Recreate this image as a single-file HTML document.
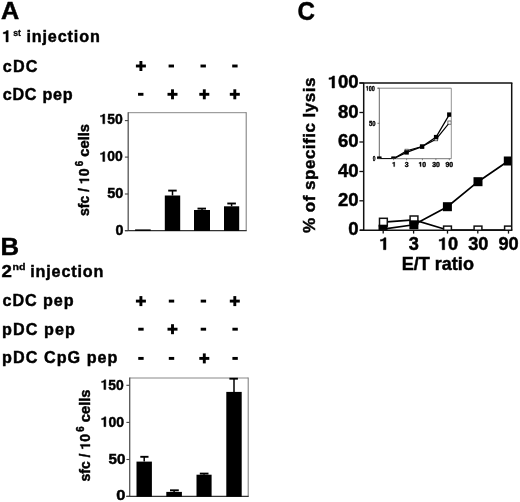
<!DOCTYPE html>
<html><head><meta charset="utf-8"><style>
html,body{margin:0;padding:0;background:#fff;}
svg{display:block;will-change:transform;}
text{font-family:"Liberation Sans",sans-serif;font-weight:bold;}
</style></head><body>
<svg width="520" height="502" viewBox="0 0 520 502">
<rect width="520" height="502" fill="#fff"/>
<g transform="translate(0.93,19.00) scale(1.0730,1.0000)"><text x="0" y="0" font-size="23.5" fill="#000" stroke="#000" stroke-width="0.45">A</text></g>
<g transform="translate(2.19,41.90) scale(0.9825,1.0000)"><text x="0" y="0" font-size="16.5" fill="#000" stroke="#000" stroke-width="0.45"> </text><path transform="translate(0.000,0) scale(0.008057,-0.008057)" d="M 478 0 L 759 0 L 759 1409 L 560 1409 C 520 1270 370 1200 140 1190 L 140 1000 C 300 1005 420 1035 478 1075 Z" fill="#000" stroke="#000" stroke-width="0.45" vector-effect="non-scaling-stroke"/></g>
<g transform="translate(13.24,35.50) scale(0.9600,1.0000)"><text x="0" y="0" font-size="9" fill="#000" stroke="#000" stroke-width="0.3">st</text></g>
<g transform="translate(26.40,41.90) scale(0.9800,1.0000)"><text x="0" y="0" font-size="16.5" fill="#000" stroke="#000" stroke-width="0.45" letter-spacing="0.891">injection</text></g>
<g transform="translate(2.69,71.60) scale(0.9800,1.0000)"><text x="0" y="0" font-size="16.5" fill="#000" stroke="#000" stroke-width="0.45" letter-spacing="1.245">cDC</text></g>
<g transform="translate(2.69,99.80) scale(0.9800,1.0000)"><text x="0" y="0" font-size="16.5" fill="#000" stroke="#000" stroke-width="0.45" letter-spacing="0.763">cDC pep</text></g>
<rect x="135.90" y="64.55" width="10.00" height="2.90" fill="#000" />
<rect x="139.45" y="61.00" width="2.90" height="10.00" fill="#000" />
<rect x="168.60" y="64.55" width="5.40" height="2.90" fill="#000" />
<rect x="200.50" y="64.55" width="5.40" height="2.90" fill="#000" />
<rect x="232.20" y="64.55" width="5.40" height="2.90" fill="#000" />
<rect x="138.05" y="92.85" width="5.40" height="2.90" fill="#000" />
<rect x="167.50" y="92.85" width="10.00" height="2.90" fill="#000" />
<rect x="171.05" y="89.30" width="2.90" height="10.00" fill="#000" />
<rect x="199.30" y="92.85" width="10.00" height="2.90" fill="#000" />
<rect x="202.85" y="89.30" width="2.90" height="10.00" fill="#000" />
<rect x="229.80" y="92.85" width="10.00" height="2.90" fill="#000" />
<rect x="233.35" y="89.30" width="2.90" height="10.00" fill="#000" />
<line x1="128.20" y1="112.70" x2="246.20" y2="112.70" stroke="#888" stroke-width="1.0" />
<line x1="246.20" y1="112.20" x2="246.20" y2="230.60" stroke="#777" stroke-width="1.0" />
<line x1="128.20" y1="112.20" x2="128.20" y2="231.10" stroke="#555" stroke-width="1.3" />
<line x1="124.90" y1="230.60" x2="246.70" y2="230.60" stroke="#333" stroke-width="1.2" />
<line x1="124.90" y1="120.60" x2="128.20" y2="120.60" stroke="#444" stroke-width="1.1" />
<line x1="124.90" y1="157.10" x2="128.20" y2="157.10" stroke="#444" stroke-width="1.1" />
<line x1="124.90" y1="194.00" x2="128.20" y2="194.00" stroke="#444" stroke-width="1.1" />
<line x1="124.90" y1="230.60" x2="128.20" y2="230.60" stroke="#444" stroke-width="1.1" />
<rect x="135.10" y="229.40" width="15.60" height="1.50" fill="#000" />
<rect x="164.80" y="195.50" width="15.40" height="35.40" fill="#000" />
<line x1="172.50" y1="190.60" x2="172.50" y2="195.50" stroke="#000" stroke-width="1.5" />
<line x1="168.20" y1="190.60" x2="176.70" y2="190.60" stroke="#000" stroke-width="1.9" />
<rect x="194.00" y="210.00" width="16.00" height="20.90" fill="#000" />
<line x1="202.00" y1="208.60" x2="202.00" y2="210.00" stroke="#000" stroke-width="1.5" />
<line x1="197.50" y1="208.60" x2="206.00" y2="208.60" stroke="#000" stroke-width="1.9" />
<rect x="224.00" y="206.30" width="15.20" height="24.60" fill="#000" />
<line x1="231.60" y1="203.50" x2="231.60" y2="206.30" stroke="#000" stroke-width="1.5" />
<line x1="227.30" y1="203.50" x2="235.90" y2="203.50" stroke="#000" stroke-width="1.9" />
<g transform="translate(99.55,123.78) scale(0.9830,1.0000)"><text x="0" y="0" font-size="14.2" fill="#000" stroke="#000" stroke-width="0.45"> 50</text><path transform="translate(0.000,0) scale(0.006934,-0.006934)" d="M 478 0 L 759 0 L 759 1409 L 560 1409 C 520 1270 370 1200 140 1190 L 140 1000 C 300 1005 420 1035 478 1075 Z" fill="#000" stroke="#000" stroke-width="0.45" vector-effect="non-scaling-stroke"/></g>
<g transform="translate(99.55,161.43) scale(0.9830,1.0000)"><text x="0" y="0" font-size="14.2" fill="#000" stroke="#000" stroke-width="0.45"> 00</text><path transform="translate(0.000,0) scale(0.006934,-0.006934)" d="M 478 0 L 759 0 L 759 1409 L 560 1409 C 520 1270 370 1200 140 1190 L 140 1000 C 300 1005 420 1035 478 1075 Z" fill="#000" stroke="#000" stroke-width="0.45" vector-effect="non-scaling-stroke"/></g>
<g transform="translate(107.29,198.43) scale(1.0237,1.0000)"><text x="0" y="0" font-size="14.2" fill="#000" stroke="#000" stroke-width="0.45">50</text></g>
<g transform="translate(115.47,234.73) scale(1.0074,1.0000)"><text x="0" y="0" font-size="14.2" fill="#000" stroke="#000" stroke-width="0.45">0</text></g>
<g transform="translate(89.00,216.00) scale(1.0000,1.0000) rotate(-90)"><text x="0" y="0" font-size="14" fill="#000" stroke="#000" stroke-width="0.45">sfc /  0</text><path transform="translate(31.903,0) scale(0.006836,-0.006836)" d="M 478 0 L 759 0 L 759 1409 L 560 1409 C 520 1270 370 1200 140 1190 L 140 1000 C 300 1005 420 1035 478 1075 Z" fill="#000" stroke="#000" stroke-width="0.45" vector-effect="non-scaling-stroke"/></g>
<g transform="translate(82.80,166.25) scale(1.0000,0.9268) rotate(-90)"><text x="0" y="0" font-size="10.5" fill="#000" stroke="#000" stroke-width="0.5">6</text></g>
<g transform="translate(89.00,156.73) scale(1.0000,1.0523) rotate(-90)"><text x="0" y="0" font-size="14" fill="#000" stroke="#000" stroke-width="0.45">cells</text></g>
<g transform="translate(0.42,255.30) scale(1.0947,1.0000)"><text x="0" y="0" font-size="23.5" fill="#000" stroke="#000" stroke-width="0.45">B</text></g>
<g transform="translate(1.39,277.00) scale(1.1302,1.0000)"><text x="0" y="0" font-size="16.5" fill="#000" stroke="#000" stroke-width="0.45">2</text></g>
<g transform="translate(12.56,270.40) scale(1.1795,1.0000)"><text x="0" y="0" font-size="9" fill="#000" stroke="#000" stroke-width="0.3">nd</text></g>
<g transform="translate(30.30,277.00) scale(0.9800,1.0000)"><text x="0" y="0" font-size="16.5" fill="#000" stroke="#000" stroke-width="0.45" letter-spacing="0.840">injection</text></g>
<g transform="translate(2.59,306.40) scale(0.9800,1.0000)"><text x="0" y="0" font-size="16.5" fill="#000" stroke="#000" stroke-width="0.45" letter-spacing="0.933">cDC pep</text></g>
<g transform="translate(2.10,334.80) scale(0.9800,1.0000)"><text x="0" y="0" font-size="16.5" fill="#000" stroke="#000" stroke-width="0.45" letter-spacing="1.092">pDC pep</text></g>
<g transform="translate(2.10,363.30) scale(0.9800,1.0000)"><text x="0" y="0" font-size="16.5" fill="#000" stroke="#000" stroke-width="0.45" letter-spacing="1.054">pDC CpG pep</text></g>
<rect x="135.90" y="299.65" width="10.00" height="2.90" fill="#000" />
<rect x="139.45" y="296.10" width="2.90" height="10.00" fill="#000" />
<rect x="168.80" y="299.65" width="5.40" height="2.90" fill="#000" />
<rect x="200.70" y="299.65" width="5.40" height="2.90" fill="#000" />
<rect x="229.80" y="299.65" width="10.00" height="2.90" fill="#000" />
<rect x="233.35" y="296.10" width="2.90" height="10.00" fill="#000" />
<rect x="138.25" y="327.75" width="5.40" height="2.90" fill="#000" />
<rect x="167.50" y="327.75" width="10.00" height="2.90" fill="#000" />
<rect x="171.05" y="324.20" width="2.90" height="10.00" fill="#000" />
<rect x="200.70" y="327.75" width="5.40" height="2.90" fill="#000" />
<rect x="232.40" y="327.75" width="5.40" height="2.90" fill="#000" />
<rect x="138.25" y="356.95" width="5.40" height="2.90" fill="#000" />
<rect x="168.80" y="356.95" width="5.40" height="2.90" fill="#000" />
<rect x="199.30" y="356.95" width="10.00" height="2.90" fill="#000" />
<rect x="202.85" y="353.40" width="2.90" height="10.00" fill="#000" />
<rect x="232.40" y="356.95" width="5.40" height="2.90" fill="#000" />
<line x1="129.70" y1="378.00" x2="248.20" y2="378.00" stroke="#888" stroke-width="1.0" />
<line x1="248.20" y1="377.50" x2="248.20" y2="496.40" stroke="#777" stroke-width="1.0" />
<line x1="129.70" y1="377.50" x2="129.70" y2="496.90" stroke="#555" stroke-width="1.3" />
<line x1="126.40" y1="496.40" x2="248.70" y2="496.40" stroke="#333" stroke-width="1.2" />
<line x1="126.40" y1="385.30" x2="129.70" y2="385.30" stroke="#444" stroke-width="1.1" />
<line x1="126.40" y1="422.40" x2="129.70" y2="422.40" stroke="#444" stroke-width="1.1" />
<line x1="126.40" y1="459.50" x2="129.70" y2="459.50" stroke="#444" stroke-width="1.1" />
<line x1="126.40" y1="496.40" x2="129.70" y2="496.40" stroke="#444" stroke-width="1.1" />
<rect x="136.50" y="461.60" width="15.40" height="35.10" fill="#000" />
<line x1="144.20" y1="456.80" x2="144.20" y2="461.60" stroke="#000" stroke-width="1.5" />
<line x1="140.30" y1="456.80" x2="148.50" y2="456.80" stroke="#000" stroke-width="1.9" />
<rect x="166.30" y="491.90" width="15.60" height="4.80" fill="#000" />
<line x1="174.10" y1="490.30" x2="174.10" y2="491.90" stroke="#000" stroke-width="1.5" />
<line x1="170.00" y1="490.30" x2="178.80" y2="490.30" stroke="#000" stroke-width="1.9" />
<rect x="196.50" y="474.70" width="15.10" height="22.00" fill="#000" />
<line x1="204.05" y1="473.60" x2="204.05" y2="474.70" stroke="#000" stroke-width="1.5" />
<line x1="199.80" y1="473.60" x2="208.50" y2="473.60" stroke="#000" stroke-width="1.9" />
<rect x="226.30" y="391.90" width="15.40" height="104.80" fill="#000" />
<line x1="234.00" y1="378.70" x2="234.00" y2="391.90" stroke="#000" stroke-width="1.5" />
<line x1="229.40" y1="378.70" x2="237.90" y2="378.70" stroke="#000" stroke-width="1.9" />
<g transform="translate(100.65,389.53) scale(0.9785,1.0000)"><text x="0" y="0" font-size="14.2" fill="#000" stroke="#000" stroke-width="0.45"> 50</text><path transform="translate(0.000,0) scale(0.006934,-0.006934)" d="M 478 0 L 759 0 L 759 1409 L 560 1409 C 520 1270 370 1200 140 1190 L 140 1000 C 300 1005 420 1035 478 1075 Z" fill="#000" stroke="#000" stroke-width="0.45" vector-effect="non-scaling-stroke"/></g>
<g transform="translate(100.64,426.63) scale(0.9920,1.0000)"><text x="0" y="0" font-size="14.2" fill="#000" stroke="#000" stroke-width="0.45"> 00</text><path transform="translate(0.000,0) scale(0.006934,-0.006934)" d="M 478 0 L 759 0 L 759 1409 L 560 1409 C 520 1270 370 1200 140 1190 L 140 1000 C 300 1005 420 1035 478 1075 Z" fill="#000" stroke="#000" stroke-width="0.45" vector-effect="non-scaling-stroke"/></g>
<g transform="translate(108.46,463.68) scale(1.0712,1.0000)"><text x="0" y="0" font-size="14.2" fill="#000" stroke="#000" stroke-width="0.45">50</text></g>
<g transform="translate(116.22,500.48) scale(1.1630,1.0000)"><text x="0" y="0" font-size="14.2" fill="#000" stroke="#000" stroke-width="0.45">0</text></g>
<g transform="translate(90.00,481.50) scale(1.0000,1.0000) rotate(-90)"><text x="0" y="0" font-size="14" fill="#000" stroke="#000" stroke-width="0.45">sfc /  0</text><path transform="translate(31.903,0) scale(0.006836,-0.006836)" d="M 478 0 L 759 0 L 759 1409 L 560 1409 C 520 1270 370 1200 140 1190 L 140 1000 C 300 1005 420 1035 478 1075 Z" fill="#000" stroke="#000" stroke-width="0.45" vector-effect="non-scaling-stroke"/></g>
<g transform="translate(83.80,431.75) scale(1.0000,0.9268) rotate(-90)"><text x="0" y="0" font-size="10.5" fill="#000" stroke="#000" stroke-width="0.5">6</text></g>
<g transform="translate(90.00,422.23) scale(1.0000,1.0523) rotate(-90)"><text x="0" y="0" font-size="14" fill="#000" stroke="#000" stroke-width="0.45">cells</text></g>
<g transform="translate(297.54,19.50) scale(0.9649,1.0000)"><text x="0" y="0" font-size="25" fill="#000" stroke="#000" stroke-width="0.45">C</text></g>
<clipPath id="cpC"><rect x="363.7" y="83.0" width="148.0" height="147.2"/></clipPath>
<g clip-path="url(#cpC)">
<polyline points="383.4,222.2 414.0,219.9 447.5,230.0 478.0,230.0 508.5,230.0" fill="none" stroke="#000" stroke-width="1.7"/>
<polyline points="383.0,229.2 413.9,224.8 447.4,206.7 478.0,181.7 508.3,161.0" fill="none" stroke="#000" stroke-width="1.7"/>
<rect x="379.5" y="218.29999999999998" width="7.8" height="7.8" fill="#fff" stroke="#111" stroke-width="1.5"/>
<rect x="410.1" y="216.0" width="7.8" height="7.8" fill="#fff" stroke="#111" stroke-width="1.5"/>
<rect x="443.6" y="226.1" width="7.8" height="7.8" fill="#fff" stroke="#111" stroke-width="1.5"/>
<rect x="474.1" y="226.1" width="7.8" height="7.8" fill="#fff" stroke="#111" stroke-width="1.5"/>
<rect x="504.6" y="226.1" width="7.8" height="7.8" fill="#fff" stroke="#111" stroke-width="1.5"/>
<rect x="378.5" y="224.7" width="9" height="9" fill="#000"/>
<rect x="409.4" y="220.3" width="9" height="9" fill="#000"/>
<rect x="442.9" y="202.2" width="9" height="9" fill="#000"/>
<rect x="473.5" y="177.2" width="9" height="9" fill="#000"/>
<rect x="503.8" y="156.5" width="9" height="9" fill="#000"/>
</g>
<line x1="359.40" y1="83.00" x2="512.40" y2="83.00" stroke="#111" stroke-width="1.5" />
<line x1="511.70" y1="83.00" x2="511.70" y2="230.20" stroke="#111" stroke-width="1.5" />
<line x1="363.70" y1="83.00" x2="363.70" y2="230.90" stroke="#111" stroke-width="1.5" />
<line x1="360.00" y1="230.20" x2="512.40" y2="230.20" stroke="#111" stroke-width="1.5" />
<line x1="359.40" y1="83.00" x2="363.70" y2="83.00" stroke="#111" stroke-width="1.3" />
<g transform="translate(327.69,88.00) scale(1.0600,1.0000)"><text x="0" y="0" font-size="17.5" fill="#000" stroke="#000" stroke-width="0.45"> 00</text><path transform="translate(0.000,0) scale(0.008545,-0.008545)" d="M 478 0 L 759 0 L 759 1409 L 560 1409 C 520 1270 370 1200 140 1190 L 140 1000 C 300 1005 420 1035 478 1075 Z" fill="#000" stroke="#000" stroke-width="0.45" vector-effect="non-scaling-stroke"/></g>
<line x1="359.40" y1="112.50" x2="363.70" y2="112.50" stroke="#111" stroke-width="1.3" />
<g transform="translate(338.02,117.50) scale(1.0600,1.0000)"><text x="0" y="0" font-size="17.5" fill="#000" stroke="#000" stroke-width="0.45">80</text></g>
<line x1="359.40" y1="142.00" x2="363.70" y2="142.00" stroke="#111" stroke-width="1.3" />
<g transform="translate(338.02,147.00) scale(1.0600,1.0000)"><text x="0" y="0" font-size="17.5" fill="#000" stroke="#000" stroke-width="0.45">60</text></g>
<line x1="359.40" y1="171.50" x2="363.70" y2="171.50" stroke="#111" stroke-width="1.3" />
<g transform="translate(338.02,176.50) scale(1.0600,1.0000)"><text x="0" y="0" font-size="17.5" fill="#000" stroke="#000" stroke-width="0.45">40</text></g>
<line x1="359.40" y1="200.80" x2="363.70" y2="200.80" stroke="#111" stroke-width="1.3" />
<g transform="translate(338.02,205.80) scale(1.0600,1.0000)"><text x="0" y="0" font-size="17.5" fill="#000" stroke="#000" stroke-width="0.45">20</text></g>
<line x1="359.40" y1="230.20" x2="363.70" y2="230.20" stroke="#111" stroke-width="1.3" />
<g transform="translate(348.36,235.20) scale(1.0600,1.0000)"><text x="0" y="0" font-size="17.5" fill="#000" stroke="#000" stroke-width="0.45">0</text></g>
<line x1="383.20" y1="230.20" x2="383.20" y2="233.60" stroke="#111" stroke-width="1.3" />
<g transform="translate(379.21,249.70) scale(1.0400,1.0000)"><text x="0" y="0" font-size="17.5" fill="#000" stroke="#000" stroke-width="0.45"> </text><path transform="translate(0.000,0) scale(0.008545,-0.008545)" d="M 478 0 L 759 0 L 759 1409 L 560 1409 C 520 1270 370 1200 140 1190 L 140 1000 C 300 1005 420 1035 478 1075 Z" fill="#000" stroke="#000" stroke-width="0.45" vector-effect="non-scaling-stroke"/></g>
<line x1="413.60" y1="230.20" x2="413.60" y2="233.60" stroke="#111" stroke-width="1.3" />
<g transform="translate(408.66,249.70) scale(1.0400,1.0000)"><text x="0" y="0" font-size="17.5" fill="#000" stroke="#000" stroke-width="0.45">3</text></g>
<line x1="447.50" y1="230.20" x2="447.50" y2="233.60" stroke="#111" stroke-width="1.3" />
<g transform="translate(437.93,249.70) scale(1.0400,1.0000)"><text x="0" y="0" font-size="17.5" fill="#000" stroke="#000" stroke-width="0.45"> 0</text><path transform="translate(0.000,0) scale(0.008545,-0.008545)" d="M 478 0 L 759 0 L 759 1409 L 560 1409 C 520 1270 370 1200 140 1190 L 140 1000 C 300 1005 420 1035 478 1075 Z" fill="#000" stroke="#000" stroke-width="0.45" vector-effect="non-scaling-stroke"/></g>
<line x1="477.80" y1="230.20" x2="477.80" y2="233.60" stroke="#111" stroke-width="1.3" />
<g transform="translate(468.16,249.70) scale(1.0400,1.0000)"><text x="0" y="0" font-size="17.5" fill="#000" stroke="#000" stroke-width="0.45">30</text></g>
<line x1="508.50" y1="230.20" x2="508.50" y2="233.60" stroke="#111" stroke-width="1.3" />
<g transform="translate(498.43,249.70) scale(1.0400,1.0000)"><text x="0" y="0" font-size="17.5" fill="#000" stroke="#000" stroke-width="0.45">90</text></g>
<g transform="translate(401.74,269.60) scale(1.0315,1.0000)"><text x="0" y="0" font-size="17.5" fill="#000" stroke="#000" stroke-width="0.45">E/T ratio</text></g>
<g transform="translate(314.60,232.97) scale(1.0000,1.0000) rotate(-90)"><text x="0" y="0" font-size="17" fill="#000" stroke="#000" stroke-width="0.45" letter-spacing="0.496">% of specific lysis</text></g>
<rect x="379.3" y="88.2" width="72.0" height="70.5" fill="#fff"/>
<line x1="377.50" y1="88.20" x2="451.30" y2="88.20" stroke="#777" stroke-width="0.9" />
<line x1="451.30" y1="88.20" x2="451.30" y2="158.70" stroke="#888" stroke-width="0.9" />
<line x1="379.30" y1="88.20" x2="379.30" y2="158.70" stroke="#666" stroke-width="1.0" />
<line x1="379.30" y1="158.70" x2="451.30" y2="158.70" stroke="#777" stroke-width="1.0" />
<line x1="377.50" y1="88.20" x2="379.30" y2="88.20" stroke="#555" stroke-width="0.8" />
<line x1="377.50" y1="123.30" x2="379.30" y2="123.30" stroke="#555" stroke-width="0.8" />
<line x1="377.50" y1="158.70" x2="379.30" y2="158.70" stroke="#555" stroke-width="0.8" />
<g transform="translate(365.72,90.57) scale(0.8350,1.0000)"><text x="0" y="0" font-size="6.6" fill="#000" stroke="#000" stroke-width="0.35"> 00</text><path transform="translate(0.000,0) scale(0.003223,-0.003223)" d="M 478 0 L 759 0 L 759 1409 L 560 1409 C 520 1270 370 1200 140 1190 L 140 1000 C 300 1005 420 1035 478 1075 Z" fill="#000" stroke="#000" stroke-width="0.35" vector-effect="non-scaling-stroke"/></g>
<g transform="translate(368.88,125.57) scale(0.8889,1.0000)"><text x="0" y="0" font-size="6.6" fill="#000" stroke="#000" stroke-width="0.35">50</text></g>
<g transform="translate(372.72,161.07) scale(0.7360,1.0000)"><text x="0" y="0" font-size="6.6" fill="#000" stroke="#000" stroke-width="0.35">0</text></g>
<g transform="translate(392.08,166.60) scale(1.0500,1.0000)"><text x="0" y="0" font-size="6.6" fill="#000" stroke="#000" stroke-width="0.35"> </text><path transform="translate(0.000,0) scale(0.003223,-0.003223)" d="M 478 0 L 759 0 L 759 1409 L 560 1409 C 520 1270 370 1200 140 1190 L 140 1000 C 300 1005 420 1035 478 1075 Z" fill="#000" stroke="#000" stroke-width="0.35" vector-effect="non-scaling-stroke"/></g>
<line x1="393.60" y1="158.70" x2="393.60" y2="160.20" stroke="#555" stroke-width="0.7" />
<g transform="translate(404.70,166.60) scale(1.0500,1.0000)"><text x="0" y="0" font-size="6.6" fill="#000" stroke="#000" stroke-width="0.35">3</text></g>
<line x1="406.60" y1="158.70" x2="406.60" y2="160.20" stroke="#555" stroke-width="0.7" />
<g transform="translate(418.49,166.60) scale(1.0500,1.0000)"><text x="0" y="0" font-size="6.6" fill="#000" stroke="#000" stroke-width="0.35"> 0</text><path transform="translate(0.000,0) scale(0.003223,-0.003223)" d="M 478 0 L 759 0 L 759 1409 L 560 1409 C 520 1270 370 1200 140 1190 L 140 1000 C 300 1005 420 1035 478 1075 Z" fill="#000" stroke="#000" stroke-width="0.35" vector-effect="non-scaling-stroke"/></g>
<line x1="422.40" y1="158.70" x2="422.40" y2="160.20" stroke="#555" stroke-width="0.7" />
<g transform="translate(432.16,166.60) scale(1.0500,1.0000)"><text x="0" y="0" font-size="6.6" fill="#000" stroke="#000" stroke-width="0.35">30</text></g>
<line x1="435.90" y1="158.70" x2="435.90" y2="160.20" stroke="#555" stroke-width="0.7" />
<g transform="translate(445.49,166.60) scale(1.0500,1.0000)"><text x="0" y="0" font-size="6.6" fill="#000" stroke="#000" stroke-width="0.35">90</text></g>
<line x1="449.30" y1="158.70" x2="449.30" y2="160.20" stroke="#555" stroke-width="0.7" />
<clipPath id="cpI"><rect x="376.3" y="88.2" width="75.0" height="70.49999999999999"/></clipPath>
<g clip-path="url(#cpI)">
<polyline points="379.3,158.7 393.5,158.7 406.6,150.8 422.1,146.6 436.1,139.2 449.5,122.6" fill="none" stroke="#000" stroke-width="1.1"/>
<polyline points="379.3,158.7 393.5,158.7 406.6,152.4 422.1,146.6 436.1,137.1 449.3,114.6" fill="none" stroke="#000" stroke-width="1.3"/>
<rect x="377.7" y="157.1" width="3.2" height="3.2" fill="#fff" stroke="#333" stroke-width="0.7"/>
<rect x="391.9" y="157.1" width="3.2" height="3.2" fill="#fff" stroke="#333" stroke-width="0.7"/>
<rect x="405.0" y="149.20000000000002" width="3.2" height="3.2" fill="#fff" stroke="#333" stroke-width="0.7"/>
<rect x="420.5" y="145.0" width="3.2" height="3.2" fill="#fff" stroke="#333" stroke-width="0.7"/>
<rect x="434.5" y="137.6" width="3.2" height="3.2" fill="#fff" stroke="#333" stroke-width="0.7"/>
<rect x="447.9" y="121.0" width="3.2" height="3.2" fill="#fff" stroke="#333" stroke-width="0.7"/>
<rect x="377.1" y="156.5" width="4.4" height="4.4" fill="#000"/>
<rect x="391.3" y="156.5" width="4.4" height="4.4" fill="#000"/>
<rect x="404.40000000000003" y="150.20000000000002" width="4.4" height="4.4" fill="#000"/>
<rect x="419.90000000000003" y="144.4" width="4.4" height="4.4" fill="#000"/>
<rect x="433.90000000000003" y="134.9" width="4.4" height="4.4" fill="#000"/>
<rect x="447.1" y="112.39999999999999" width="4.4" height="4.4" fill="#000"/>
</g>
</svg>
</body></html>
